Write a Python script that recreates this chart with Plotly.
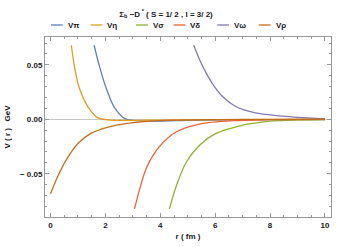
import plotly.graph_objects as go

# potentials (r in fm, V in GeV)
pi_r = [1.59, 1.77, 2.01, 2.31, 2.73, 3.2, 4.0, 5.0, 6.5, 8.0, 10.0]
pi_v = [0.068, 0.050, 0.030, 0.0117, 0.0003, -0.0014, -0.0016, -0.0011, -0.0006, -0.0003, -0.0002]

eta_r = [0.76, 0.87, 1.05, 1.36, 1.72, 2.2, 3.0, 4.5, 6.5, 10.0]
eta_v = [0.068, 0.0487, 0.0287, 0.0117, 0.0015, -0.0008, -0.0010, -0.0006, -0.0003, -0.0001]

sigma_r = [4.33, 4.59, 4.95, 5.43, 6.03, 6.87, 7.83, 9.03, 10.0]
sigma_v = [-0.0824, -0.0608, -0.0393, -0.0238, -0.0130, -0.0062, -0.0022, -0.0006, -0.0002]

delta_r = [3.06, 3.27, 3.51, 3.99, 4.59, 5.43, 6.63, 8.0, 10.0]
delta_v = [-0.0824, -0.0624, -0.0439, -0.0245, -0.0115, -0.0044, -0.0013, -0.0004, -0.0001]

omega_r = [5.22, 5.43, 5.67, 5.91, 6.27, 6.75, 7.47, 8.25, 9.03, 10.0]
omega_v = [0.0681, 0.0549, 0.0426, 0.0324, 0.0209, 0.0117, 0.0058, 0.0033, 0.0018, 0.0006]

rho_r = [0.0, 0.28, 0.64, 1.0, 1.47, 2.07, 2.80, 4.0, 6.0, 8.0, 10.0]
rho_v = [-0.0685, -0.0516, -0.0346, -0.0222, -0.0130, -0.0074, -0.0037, -0.0012, -0.0003, -0.0001, 0.0]

names = ["Vπ", "Vη", "Vσ", "Vδ", "Vω", "Vρ"]
colors = ["#5E81B5", "#E19C24", "#8FB032", "#EB6235", "#8778B3", "#C56E1A"]
series = [(pi_r, pi_v), (eta_r, eta_v), (sigma_r, sigma_v),
          (delta_r, delta_v), (omega_r, omega_v), (rho_r, rho_v)]

y_tickvals = [-0.05, 0.0, 0.05]
y_ticktext = ["− 0.05", "0.00", "0.05"]
x_tickvals = [0, 2, 4, 6, 8, 10]

font = "Liberation Sans, Arial, sans-serif"
txt = "#1a1a1a"

fig = go.Figure()
for (r, v), name, col in zip(series, names, colors):
    fig.add_trace(go.Scatter(x=r, y=v, mode="lines", name=name,
                             line=dict(color=col, width=1.3, shape="spline", smoothing=0.8),
                             hoverinfo="skip", showlegend=False))

# hand-made legend row across the top
L, R, T, B = 43, 6, 37, 30
W, H = 338 - L - R, 247 - T - B
leg_x = [49, 89, 135, 173, 217, 259]
leg_y = (247 - B - 25) / H
for px, name, col in zip(leg_x, names, colors):
    x0 = (px - L) / W
    x1 = (px + 12 - L) / W
    fig.add_shape(type="line", xref="paper", yref="paper", x0=x0, x1=x1, y0=leg_y, y1=leg_y,
                  line=dict(color=col, width=1.3))
    fig.add_annotation(xref="paper", yref="paper", x=(px + 15 - L) / W, y=leg_y, text="<b>" + name + "</b>",
                       showarrow=False, xanchor="left", yanchor="middle",
                       font=dict(size=8, color=txt, family=font))

fig.update_layout(
    width=338, height=247,
    margin=dict(l=L, r=R, t=T, b=B),
    paper_bgcolor="white", plot_bgcolor="white",
    showlegend=False,
    title=dict(text="<b>Σ<sub>b</sub> −D<sup> *</sup> ( S = 1/ 2 , I = 3/ 2)</b>",
               x=166 / 338, xanchor="center", y=1 - 14 / 247, yanchor="middle",
               font=dict(size=8, color=txt, family=font)),
    font=dict(family=font, size=8, color=txt),
)
fig.update_xaxes(range=[-0.2, 10.22], tickvals=x_tickvals, ticktext=["<b>%d</b>" % v for v in x_tickvals],
                 ticks="inside", ticklen=4,
                 tickcolor="#999", linecolor="#999", linewidth=1, mirror="allticks",
                 showgrid=False, zeroline=False, tickfont=dict(size=8, color=txt),
                 minor=dict(dtick=0.5, ticks="inside", ticklen=2, tickcolor="#999"),
                 title=dict(text="<b>r ( fm )</b>", font=dict(size=8, color=txt), standoff=4))
fig.update_yaxes(range=[-0.0898, 0.0756], tickvals=y_tickvals,
                 ticktext=["<b>" + t + "</b>" for t in y_ticktext],
                 ticks="inside", ticklen=4, tickcolor="#999", linecolor="#999", linewidth=1,
                 mirror="allticks", showgrid=False, zeroline=True, zerolinecolor="#c8c8c8",
                 zerolinewidth=1, tickfont=dict(size=8, color=txt),
                 minor=dict(dtick=0.01, ticks="inside", ticklen=2, tickcolor="#999"),
                 title=dict(text="<b>V ( r )   GeV</b>", font=dict(size=8, color=txt), standoff=8))

fig.write_html("out.html", config={"displayModeBar": False},
               post_script="document.body.style.margin='0';document.body.style.overflow='hidden';")
